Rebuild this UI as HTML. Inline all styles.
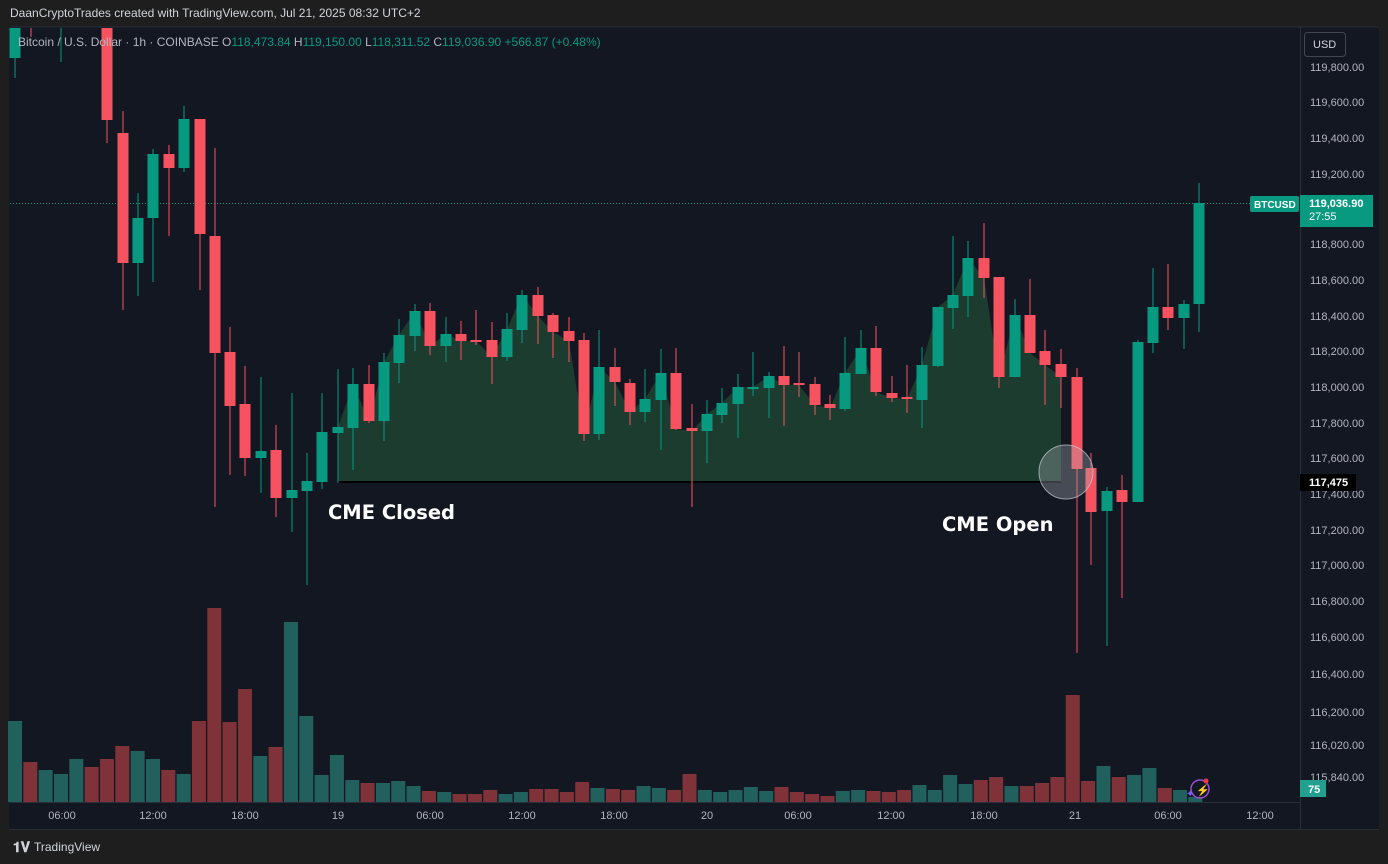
<!DOCTYPE html>
<html><head><meta charset="utf-8"><style>
html,body{margin:0;padding:0;background:#1e1e1e;width:1388px;height:864px;overflow:hidden;font-family:"Liberation Sans",sans-serif}
svg{position:absolute;left:0;top:0}
</style></head><body>
<svg id="s" width="1388" height="864" xmlns="http://www.w3.org/2000/svg">
<rect x="0" y="0" width="1388" height="864" fill="#1e1e1e"/>
<rect x="9" y="27" width="1370" height="803" fill="#131722"/>
<line x1="9" y1="27" x2="1379" y2="27" fill="none" stroke="#2a2e39"/>
<line x1="1300.5" y1="27" x2="1300.5" y2="829" stroke="#2a2e39"/>
<line x1="9" y1="802.5" x2="1300" y2="802.5" stroke="#2a2e39"/>
<line x1="9" y1="829.5" x2="1379" y2="829.5" stroke="#2a2e39"/>
<text x="10" y="17" font-size="12" fill="#d1d4dc" font-family="Liberation Sans">DaanCryptoTrades created with TradingView.com, Jul 21, 2025 08:32 UTC+2</text>
<g id="vol"></g>
<path id="area" fill="#1f4a33" fill-opacity="0.75"/>
<line x1="338" y1="482" x2="1061" y2="482" stroke="#000" stroke-width="2"/>
<line x1="10" y1="203.5" x2="1250" y2="203.5" stroke="#089981" stroke-width="1" stroke-dasharray="1,2"/>
<g id="cand"></g>
<circle cx="1066" cy="472" r="27" fill="#a8acb4" fill-opacity="0.35" stroke="#c8ccd4" stroke-opacity="0.7" stroke-width="1"/>
<text x="328" y="519" font-size="19.5" font-weight="bold" fill="#ffffff" font-family="DejaVu Sans">CME Closed</text>
<text x="942" y="531" font-size="19.5" font-weight="bold" fill="#ffffff" font-family="DejaVu Sans">CME Open</text>
<text x="18" y="46" font-size="12" font-family="Liberation Sans"><tspan fill="#b2b5be">Bitcoin / U.S. Dollar · 1h · COINBASE  O</tspan><tspan fill="#089981">118,473.84</tspan><tspan fill="#b2b5be">  H</tspan><tspan fill="#089981">119,150.00</tspan><tspan fill="#b2b5be">  L</tspan><tspan fill="#089981">118,311.52</tspan><tspan fill="#b2b5be">  C</tspan><tspan fill="#089981">119,036.90  +566.87 (+0.48%)</tspan></text>
<g id="axis" font-size="11" fill="#b2b5be" font-family="Liberation Sans"></g>
<rect x="1304.5" y="32.5" width="41" height="24" rx="3" fill="#131722" stroke="#434651"/>
<text x="1313" y="48" font-size="11" fill="#d1d4dc">USD</text>
<rect x="1250" y="196" width="49" height="16" rx="2" fill="#089981"/>
<text x="1254" y="208" font-size="10" font-weight="bold" fill="#fff">BTCUSD</text>
<rect x="1300" y="195" width="73" height="32" fill="#089981"/>
<text x="1309" y="207" font-size="11" font-weight="bold" fill="#fff">119,036.90</text>
<text x="1309" y="220" font-size="11" fill="#fff">27:55</text>
<rect x="1300" y="474" width="56" height="17" fill="#000"/>
<text x="1309" y="486" font-size="11" font-weight="bold" fill="#fff">117,475</text>
<rect x="1300" y="780" width="26" height="17" fill="#22a08f"/>
<text x="1308" y="793" font-size="11" font-weight="bold" fill="#fff">75</text>
<circle cx="1200" cy="789" r="9" fill="none" stroke="#9c4fd6" stroke-width="1.5"/>
<text x="1196" y="794" font-size="11" fill="#9c4fd6">⚡</text>
<circle cx="1206" cy="781" r="2.5" fill="#f23645"/>
<text x="1186" y="797" font-size="10" fill="#7b5cff">✦</text>
<text x="13" y="852" font-size="14" font-weight="bold" fill="#d1d4dc">𝟏𝐕</text>
<text x="34" y="851" font-size="12" fill="#d1d4dc">TradingView</text>
</svg>
<script>
var G="#089981",R="#f7525f";
var c=[
[15,G,20,20,58,78],[31,R,20,20,24,37],[61,G,20,20,24,62],
[107,R,20,20,120,143],[123,R,111,133,263,310],[138,G,193,218,263,296],[153,G,149,154,218,282],
[169,R,145,154,168,236],[184,G,106,119,168,172],[200,R,119,119,234,290],[215,R,148,236,353,507],
[230,R,327,352,406,475],[245,R,366,404,458,476],[261,G,377,451,458,493],[276,R,425,450,498,517],
[292,G,393,490,498,532],[307,G,453,481,491,585],[322,G,393,432,482,489],[338,G,369,427,433,483],
[353,G,368,384,428,470],[369,R,365,384,421,423],[384,G,353,362,421,441],[399,G,319,335,363,383],
[415,G,304,311,336,351],[430,R,303,311,346,355],[446,G,317,334,346,362],[461,R,321,334,341,360],
[476,R,310,340,341,345],[492,R,322,340,357,384],[507,G,313,329,357,361],[522,G,290,295,330,343],
[538,R,287,295,316,344],[553,R,313,315,332,358],[569,R,317,331,341,362],[584,R,333,340,434,441],
[599,G,330,367,434,440],[615,R,348,367,382,406],[630,R,379,383,412,425],[645,G,369,399,412,422],
[661,G,349,373,400,450],[676,R,348,373,429,430],[692,R,404,428,431,507],[707,G,400,414,431,463],
[722,G,388,403,415,423],[738,G,374,387,404,438],[753,G,352,387,388,396],[769,G,372,376,388,418],
[784,R,346,376,385,426],[799,R,352,383,385,397],[815,R,377,384,405,415],[830,R,395,404,408,420],
[845,G,337,373,409,411],[861,G,330,348,374,374],[876,R,326,348,392,396],[892,R,376,393,398,402],
[907,R,365,397,399,413],[922,G,347,365,400,428],[938,G,307,307,366,367],[953,G,236,295,308,329],
[968,G,241,258,296,317],[984,R,223,258,278,298],[999,R,277,277,377,388],[1015,G,299,315,377,377],
[1030,R,279,315,353,353],[1045,R,330,351,365,405],[1061,R,349,364,377,408],[1077,R,368,377,469,653],
[1091,R,453,468,512,565],[1107,G,487,491,511,646],[1122,R,475,490,502,598],[1138,G,340,342,502,502],
[1153,G,268,307,343,353],[1168,R,264,307,318,330],[1184,G,300,304,318,349],[1199,G,183,203,304,332]];
var h="";
c.forEach(function(d){var x=d[0],col=d[1];
h+='<line x1="'+x+'" y1="'+d[2]+'" x2="'+x+'" y2="'+d[5]+'" stroke="'+col+'" stroke-width="1"/>';
var bh=Math.max(2,d[4]-d[3]);
h+='<rect x="'+(x-5.5)+'" y="'+d[3]+'" width="11" height="'+bh+'" fill="'+col+'"/>';});
h='<clipPath id="cp"><rect x="9" y="28" width="1291" height="774"/></clipPath><g clip-path="url(#cp)">'+h+'</g>';
document.getElementById("cand").innerHTML=h;
var pts="338,482";
c.forEach(function(d){if(d[0]>=338&&d[0]<=1061){var cl=d[1]==G?d[3]:d[4];pts+=" "+d[0]+","+cl;}});
pts+=" 1061,482";
document.getElementById("area").setAttribute("d","M"+pts.split(" ").join(" L")+" Z");
var VG="#22605e",VR="#7f3338";
var v=[[721,G],[762,R],[770,G],[774,G],[759,G],[767,R],[759,R],[746,R],[751,G],[759,G],[770,R],[774,G],
[721,R],[608,R],[722,R],[689,R],[756,G],[747,R],[622,G],[716,G],[775,G],[755,G],[780,G],[783,R],[783,G],
[781,G],[786,G],[791,R],[792,G],[794,R],[794,R],[790,R],[794,G],[792,G],[789,R],[789,R],[792,R],[782,R],
[788,G],[789,R],[790,R],[786,G],
[788,G],[790,R],[774,R],[790,G],[792,G],[790,G],[787,G],[791,G],[787,R],[792,R],[794,R],[796,R],[791,G],
[790,G],[791,R],[792,R],[790,R],[785,G],[790,G],[775,G],[784,G],[780,R],[777,R],[786,G],[786,R],[783,R],
[777,R],[695,R],[781,R],[766,G],[777,R],[775,G],[768,G],[788,R],[790,G],[797,G]];
var vh="";
v.forEach(function(d,i){var x=15+i*15.33;vh+='<rect x="'+(x-7)+'" y="'+d[0]+'" width="14" height="'+(802-d[0])+'" fill="'+(d[1]==G?VG:VR)+'"/>';});
document.getElementById("vol").innerHTML=vh;
var ax="";
[[119800,67],[119600,102],[119400,138],[119200,174],[118800,244],[118600,280],[118400,316],[118200,351],[118000,387],[117800,423],[117600,458],[117400,494],[117200,530],[117000,565],[116800,601],[116600,637],[116400,674],[116200,712],[116020,745],[115840,777]].forEach(function(p){
ax+='<text x="1310" y="'+(p[1]+4)+'">'+p[0].toLocaleString("en-US")+'.00</text>';});
[["06:00",62],["12:00",153],["18:00",245],["19",338],["06:00",430],["12:00",522],["18:00",614],["20",707],["06:00",798],["12:00",891],["18:00",984],["21",1075],["06:00",1168],["12:00",1260]].forEach(function(t){
ax+='<text x="'+t[1]+'" y="819" text-anchor="middle">'+t[0]+'</text>';});
document.getElementById("axis").innerHTML=ax;
</script>
</body></html>
